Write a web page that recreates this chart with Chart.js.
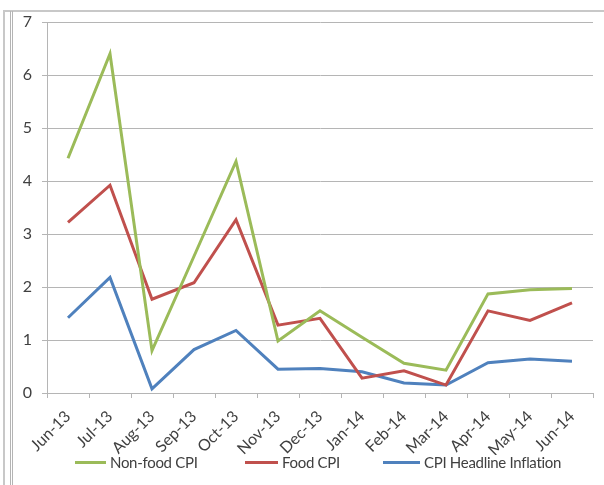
<!DOCTYPE html>
<html>
<head>
<meta charset="utf-8">
<script src="https://cdn.jsdelivr.net/npm/chart.js@4/dist/chart.umd.min.js"></script>
<style>
  html, body { margin: 0; padding: 0; background: #fff; }
  #wrap { position: relative; width: 604px; height: 485px; overflow: hidden; }
  .frame1 { position: absolute; left: 3px; top: 10px; width: 610px; height: 480px;
            border-left: 2px solid #c8c8c8; border-top: 2px solid #c8c8c8; }
  .frame2 { position: absolute; left: 10px; top: 11px; width: 600px; height: 480px;
            border-left: 3px double #b4b4b4; }
  canvas { position: absolute; left: 0; top: 0; }
  #legend { position: absolute; left: 0; top: 451px; width: 604px; height: 22px;
            font: 15px Lato, "Open Sans", sans-serif; color: #404040; letter-spacing: -0.3px; }
  .item { position: absolute; top: 0; display: flex; align-items: center; height: 22px; white-space: nowrap; }
  .item i { display: inline-block; height: 3px; margin-right: 4px; }
</style>
</head>
<body>
<div id="wrap">
  <div class="frame1"></div>
  <div class="frame2"></div>
  <canvas id="chart" width="604" height="485"></canvas>
  <div id="legend"></div>
</div>
<script>
const months = ['Jun-13', 'Jul-13', 'Aug-13', 'Sep-13', 'Oct-13', 'Nov-13', 'Dec-13',
                'Jan-14', 'Feb-14', 'Mar-14', 'Apr-14', 'May-14', 'Jun-14'];
const nonFoodCpi = [4.43, 6.40, 0.80, 2.58, 4.37, 0.98, 1.55, 1.05, 0.56, 0.43, 1.87, 1.95, 1.97];
const foodCpi = [3.22, 3.92, 1.77, 2.08, 3.27, 1.28, 1.41, 0.28, 0.42, 0.15, 1.55, 1.37, 1.70];
const headlineCpi = [1.42, 2.18, 0.08, 0.82, 1.18, 0.45, 0.46, 0.40, 0.19, 0.15, 0.57, 0.64, 0.60];

const fontFamily = 'Lato, "Open Sans", sans-serif';
const textColor = '#404040';
const gridColor = '#b5b5b5';

const ctx = document.getElementById('chart').getContext('2d');
const chart = new Chart(ctx, {
  type: 'line',
  data: {
    labels: months,
    datasets: [
      { label: 'Non-food CPI', data: nonFoodCpi, borderColor: '#9BBB59', backgroundColor: '#9BBB59' },
      { label: 'Food CPI', data: foodCpi, borderColor: '#C0504D', backgroundColor: '#C0504D' },
      { label: 'CPI Headline Inflation', data: headlineCpi, borderColor: '#4F81BD', backgroundColor: '#4F81BD' }
    ]
  },
  options: {
    responsive: false,
    animation: false,
    layout: { padding: { left: 0, right: 11, top: 22, bottom: 30 } },
    elements: {
      line: { borderWidth: 3, tension: 0 },
      point: { radius: 0 }
    },
    scales: {
      x: {
        offset: true,
        grid: { offset: true, drawOnChartArea: false, drawTicks: true, tickLength: 5, color: gridColor },
        border: { color: gridColor },
        ticks: { color: textColor, font: { family: fontFamily, size: 16 }, minRotation: 45, maxRotation: 45, padding: 9 },
        afterFit: (scale) => { scale.height = 62; }
      },
      y: {
        min: 0,
        max: 7,
        grid: { color: gridColor, tickLength: 5 },
        border: { color: gridColor },
        ticks: { stepSize: 1, color: textColor, font: { family: fontFamily, size: 16 }, padding: 10 },
        afterFit: (scale) => { scale.width = 47; }
      }
    },
    plugins: {
      tooltip: { enabled: false },
      legend: { display: false }
    }
  }
});

// legend in html, spaced like the excel one
const legendLeft = [75, 245, 383];
const legendLine = [31, 33, 37];
const legendEl = document.getElementById('legend');
chart.data.datasets.forEach((ds, i) => {
  const item = document.createElement('div');
  item.className = 'item';
  item.style.left = legendLeft[i] + 'px';
  const sw = document.createElement('i');
  sw.style.width = legendLine[i] + 'px';
  sw.style.background = ds.borderColor;
  item.appendChild(sw);
  item.appendChild(document.createTextNode(ds.label));
  legendEl.appendChild(item);
});
</script>
</body>
</html>
